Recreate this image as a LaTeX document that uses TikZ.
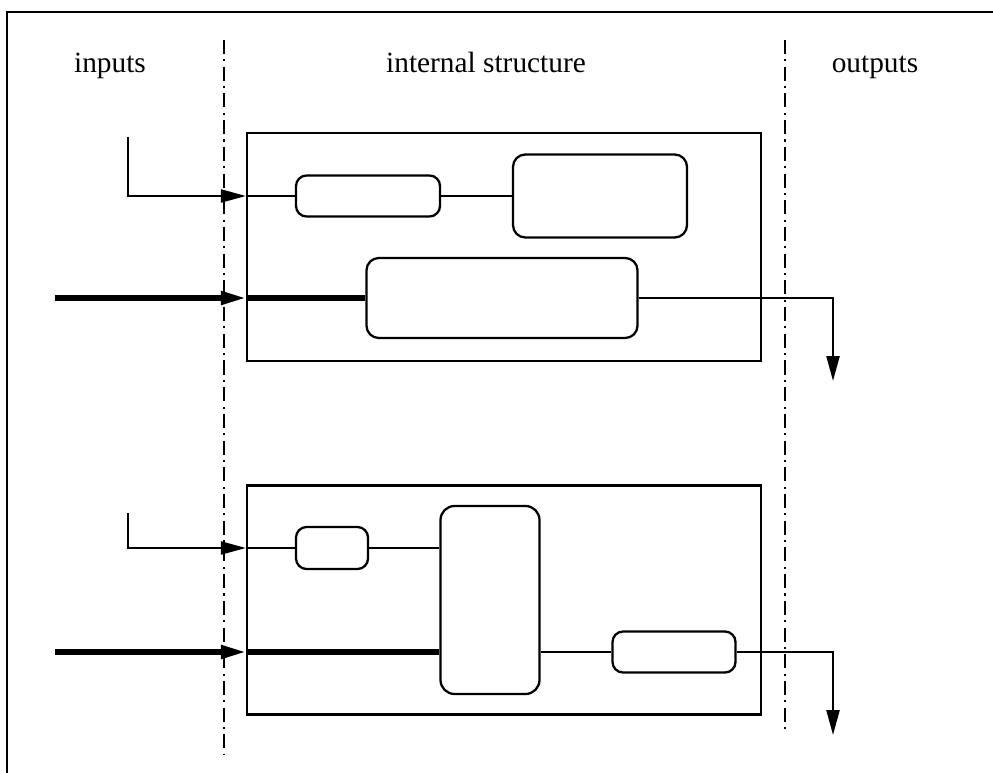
\documentclass[tikz,border=0pt]{standalone}
\usepackage{fontspec}
\setmainfont{Liberation Serif}
\usepackage{tikz}
\usetikzlibrary{arrows.meta, positioning}
\tikzset{
    unit/.style={
        rectangle,
        draw=black,
        line width=1.3pt,
        inner sep=0pt
    },
    block/.style={
        rectangle,
        rounded corners=6pt,
        draw=black,
        line width=1.3pt,
        inner sep=0pt
    },
    flow/.style={
        draw=black,
        line width=1.3pt
    },
    busflow/.style={
        draw=black,
        line width=2.9pt
    },
    tip/.style={
        -{Triangle[length=0.5cm, width=0.26cm]}
    },
    sepline/.style={
        draw=black,
        line width=1.2pt,
        dash pattern=on 8pt off 3pt on 1.2pt off 3pt
    },
    heading/.style={
        font=\fontsize{16.7}{20}\selectfont,
        anchor=base
    }
}

\begin{document}
\begin{tikzpicture}[x=0.02cm, y=-0.02cm]
    \useasboundingbox (0,0) rectangle (993,773);

    % Frame
    \draw[line width=1.6pt] (7,773) -- (7,12) -- (993,12);

    % Headings
    \node[heading] (hin) at (110,73) {inputs};
    \node[heading] (hint) at (486,73) {internal structure};
    \node[heading] (hout) at (875,73) {outputs};

    % Boundaries
    \coordinate (sepLtop) at (224,40);
    \coordinate (sepLbot) at (224,755);
    \coordinate (sepRtop) at (785,40);
    \coordinate (sepRbot) at (785,733);
    \draw[sepline] (sepLtop) -- (sepLbot);
    \draw[sepline] (sepRtop) -- (sepRbot);

    % Nodes
    \node[unit, minimum width=514*0.02cm, minimum height=228*0.02cm] (sysA) at (504,247) {};
    \node[block, minimum width=144*0.02cm, minimum height=41*0.02cm] (a1) at (368,196) {};
    \node[block, minimum width=174*0.02cm, minimum height=83*0.02cm, rounded corners=7pt] (a2) at (600,196) {};
    \node[block, minimum width=271*0.02cm, minimum height=80*0.02cm, rounded corners=7pt] (a3) at (502,298) {};

    \node[unit, minimum width=514*0.02cm, minimum height=229*0.02cm] (sysB) at (504,600) {};
    \node[block, minimum width=72*0.02cm, minimum height=42*0.02cm] (b1) at (332,548) {};
    \node[block, minimum width=99*0.02cm, minimum height=188*0.02cm, rounded corners=8pt] (b2) at (490,600) {};
    \node[block, minimum width=123*0.02cm, minimum height=41*0.02cm] (b3) at (674,652) {};

    \coordinate (inA) at (128,137);
    \coordinate (busA) at (55,298);
    \coordinate (outA) at (833,381);
    \coordinate (inB) at (128,513);
    \coordinate (busB) at (55,652);
    \coordinate (outB) at (833,735);

    % Paths
    \draw[flow, tip] (inA) |- (a1 -| sysA.west);
    \draw[flow] (a1 -| sysA.west) -- (a1.west);
    \draw[flow] (a1.east) -- (a2.west);
    \draw[busflow, tip] (busA) -- (a3 -| sysA.west);
    \draw[busflow] (a3 -| sysA.west) -- (a3.west);
    \draw[flow, tip] (a3.east) -| (outA);

    \draw[flow, tip] (inB) |- (b1 -| sysB.west);
    \draw[flow] (b1 -| sysB.west) -- (b1.west);
    \draw[flow] (b1.east) -- (b1 -| b2.west);
    \draw[busflow, tip] (busB) -- (busB -| sysB.west);
    \draw[busflow] (busB -| sysB.west) -- (busB -| b2.west);
    \draw[flow] (b3 -| b2.east) -- (b3.west);
    \draw[flow, tip] (b3.east) -| (outB);

\end{tikzpicture}
\end{document}
